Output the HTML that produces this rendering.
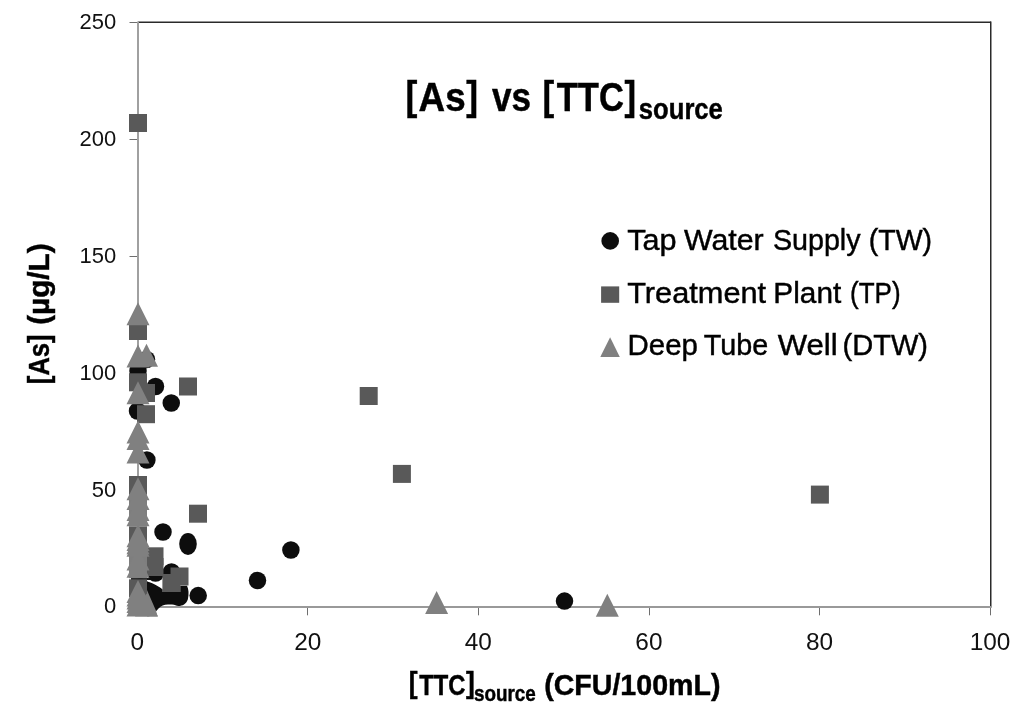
<!DOCTYPE html>
<html><head><meta charset="utf-8"><style>
html,body{margin:0;padding:0;background:#fff;width:1024px;height:720px;overflow:hidden}
svg{display:block;filter:grayscale(1)}
text{font-family:"Liberation Sans",sans-serif;fill:#111}
.yt{font-size:22px;text-anchor:end}
.xt{font-size:24.4px;text-anchor:middle}
.b{font-weight:bold}
.h{fill:#000;stroke:#000;stroke-width:0.45px}
</style></head><body>
<svg width="1024" height="720" viewBox="0 0 1024 720">
<rect width="1024" height="720" fill="#fff"/>
<rect x="138" y="21.5" width="853" height="1.5" fill="#2a2a2a"/>
<rect x="990" y="21.5" width="1.5" height="586" fill="#2a2a2a"/>
<rect x="129.5" y="607" width="8.5" height="1" fill="#6e6e6e"/>
<rect x="129.5" y="490" width="8.5" height="1" fill="#6e6e6e"/>
<rect x="129.5" y="373" width="8.5" height="1" fill="#6e6e6e"/>
<rect x="129.5" y="256" width="8.5" height="1" fill="#6e6e6e"/>
<rect x="129.5" y="139" width="8.5" height="1" fill="#6e6e6e"/>
<rect x="129.5" y="22" width="8.5" height="1" fill="#6e6e6e"/>
<rect x="136" y="607" width="1" height="8.3" fill="#6e6e6e"/>
<rect x="307" y="607" width="1" height="8.3" fill="#6e6e6e"/>
<rect x="478" y="607" width="1" height="8.3" fill="#6e6e6e"/>
<rect x="649" y="607" width="1" height="8.3" fill="#6e6e6e"/>
<rect x="819" y="607" width="1" height="8.3" fill="#6e6e6e"/>
<rect x="990" y="607" width="1" height="8.3" fill="#6e6e6e"/>
<rect x="137" y="21.5" width="2" height="586.5" fill="#a0a0a0"/>
<rect x="137" y="606" width="854.5" height="2" fill="#999"/>
<ellipse cx="188" cy="544" rx="8.8" ry="11" fill="#0d0d0d"/><rect x="131" y="578" width="19" height="2" fill="#1a1a1a"/><path d="M140 581 C147 580 155 584 162.7 589.4 L162.7 592 L180.2 592 L180.2 585.7 L187 585.7 C188.6 589 189.2 594 187.8 599.5 C186.2 604 182.5 606 178.5 606 C176 606 175 604.6 172 604.6 L168 604.6 C164 604.6 161 606 158.5 608.5 L155 612.5 L140 612.5 Z" fill="#0d0d0d"/>
<circle cx="146.5" cy="359.5" r="8.75" fill="#0d0d0d"/>
<circle cx="138" cy="371" r="8.75" fill="#0d0d0d"/>
<circle cx="155.5" cy="386.5" r="8.75" fill="#0d0d0d"/>
<circle cx="137.5" cy="411" r="8.75" fill="#0d0d0d"/>
<circle cx="171.25" cy="403" r="8.75" fill="#0d0d0d"/>
<circle cx="146.9" cy="460" r="8.75" fill="#0d0d0d"/>
<circle cx="163" cy="532" r="8.75" fill="#0d0d0d"/>
<circle cx="155.5" cy="573" r="8.75" fill="#0d0d0d"/>
<circle cx="171.5" cy="572" r="8.75" fill="#0d0d0d"/>
<circle cx="198.2" cy="595.6" r="8.75" fill="#0d0d0d"/>
<circle cx="290.9" cy="550" r="8.75" fill="#0d0d0d"/>
<circle cx="257.5" cy="580.5" r="8.75" fill="#0d0d0d"/>
<circle cx="564.5" cy="601.1" r="8.75" fill="#0d0d0d"/>
<circle cx="140.5" cy="586.9" r="8.75" fill="#0d0d0d"/>
<rect x="129" y="114" width="18" height="18" fill="#595959"/>
<rect x="129" y="322" width="18" height="18" fill="#595959"/>
<rect x="129" y="373.3" width="18" height="18" fill="#595959"/>
<rect x="179" y="377.5" width="18" height="18" fill="#595959"/>
<rect x="137" y="384" width="18" height="18" fill="#595959"/>
<rect x="137" y="405.2" width="18" height="18" fill="#595959"/>
<rect x="359.7" y="387" width="18" height="18" fill="#595959"/>
<rect x="392.9" y="464.9" width="18" height="18" fill="#595959"/>
<rect x="810.9" y="485.6" width="18" height="18" fill="#595959"/>
<rect x="129" y="476" width="18" height="18" fill="#595959"/>
<rect x="189" y="504.7" width="18" height="18" fill="#595959"/>
<rect x="129" y="526.4" width="18" height="18" fill="#595959"/>
<rect x="145.5" y="547.3" width="18" height="18" fill="#595959"/>
<rect x="145.5" y="558" width="18" height="18" fill="#595959"/>
<rect x="170.5" y="567.5" width="18" height="18" fill="#595959"/>
<rect x="162.4" y="574" width="18" height="18" fill="#595959"/>
<rect x="129" y="579.3" width="18" height="18" fill="#595959"/>
<rect x="129" y="494" width="18" height="32.5" fill="#7e7e7e"/><rect x="129" y="544" width="18" height="34.2" fill="#7e7e7e"/>
<path d="M138 302.25L149.5 325.25L126.5 325.25Z" fill="#808080"/>
<path d="M138 344.5L149.5 367.5L126.5 367.5Z" fill="#808080"/>
<path d="M146.5 343.8L158 366.8L135 366.8Z" fill="#808080"/>
<path d="M138 381.25L149.5 404.25L126.5 404.25Z" fill="#808080"/>
<path d="M138 420.5L149.5 443.5L126.5 443.5Z" fill="#808080"/>
<path d="M138 427L149.5 450L126.5 450Z" fill="#808080"/>
<path d="M138 440.5L149.5 463.5L126.5 463.5Z" fill="#808080"/>
<path d="M138 477.2L149.5 500.2L126.5 500.2Z" fill="#808080"/>
<path d="M138 486.9L149.5 509.9L126.5 509.9Z" fill="#808080"/>
<path d="M138 497.9L149.5 520.9L126.5 520.9Z" fill="#808080"/>
<path d="M138 503.2L149.5 526.2L126.5 526.2Z" fill="#808080"/>
<path d="M138 524.2L149.5 547.2L126.5 547.2Z" fill="#808080"/>
<path d="M138 528.1L149.5 551.1L126.5 551.1Z" fill="#808080"/>
<path d="M138 531.2L149.5 554.2L126.5 554.2Z" fill="#808080"/>
<path d="M138 533.8L149.5 556.8L126.5 556.8Z" fill="#808080"/>
<path d="M138 547.4L149.5 570.4L126.5 570.4Z" fill="#808080"/>
<path d="M138 554.7L149.5 577.7L126.5 577.7Z" fill="#808080"/>
<path d="M138 580.1L149.5 603.1L126.5 603.1Z" fill="#808080"/>
<path d="M138 583.4L149.5 606.4L126.5 606.4Z" fill="#808080"/>
<path d="M138 586.5L149.5 609.5L126.5 609.5Z" fill="#808080"/>
<path d="M138 590L149.5 613L126.5 613Z" fill="#808080"/>
<path d="M138 593.6L149.5 616.6L126.5 616.6Z" fill="#808080"/>
<path d="M146.5 593.6L158 616.6L135 616.6Z" fill="#808080"/>
<path d="M436.6 591L448.1 614L425.1 614Z" fill="#808080"/>
<path d="M607.3 593.7L618.8 616.7L595.8 616.7Z" fill="#808080"/>
<path d="M147 590 L151.3 600 L155.7 610 L157.7 616.6 L147 616.6 Z" fill="#808080"/>
<text class="yt" x="116.3" y="613">0</text>
<text class="yt" x="116.3" y="497.2">50</text>
<text class="yt" x="116.3" y="380.2">100</text>
<text class="yt" x="116.3" y="263.2">150</text>
<text class="yt" x="116.3" y="146.2">200</text>
<text class="yt" x="116.3" y="29.2">250</text>
<text class="xt" x="137.3" y="650.3">0</text>
<text class="xt" x="307.84" y="650.3">20</text>
<text class="xt" x="478.38" y="650.3">40</text>
<text class="xt" x="648.92" y="650.3">60</text>
<text class="xt" x="819.46" y="650.3">80</text>
<text class="xt" x="990" y="650.3">100</text>
<text class="h" x="405.41" y="109.6" font-size="41.5" font-weight="bold" textLength="11.83" lengthAdjust="spacingAndGlyphs">[</text>
<text class="h" x="418.58" y="110.9" font-size="40.5" font-weight="bold" textLength="47.02" lengthAdjust="spacingAndGlyphs">As</text>
<text class="h" x="466.37" y="109.6" font-size="41.5" font-weight="bold" textLength="11.83" lengthAdjust="spacingAndGlyphs">]</text>
<text class="h" x="492.06" y="110.9" font-size="40.5" font-weight="bold" textLength="39.08" lengthAdjust="spacingAndGlyphs">vs</text>
<text class="h" x="542.43" y="109.6" font-size="41.5" font-weight="bold" textLength="11.70" lengthAdjust="spacingAndGlyphs">[</text>
<text class="h" x="556.71" y="110.9" font-size="40.5" font-weight="bold" textLength="67.23" lengthAdjust="spacingAndGlyphs">TTC</text>
<text class="h" x="624.58" y="109.6" font-size="41.5" font-weight="bold" textLength="11.58" lengthAdjust="spacingAndGlyphs">]</text>
<text class="h" x="638.80" y="119" font-size="29" font-weight="bold" textLength="84.08" lengthAdjust="spacingAndGlyphs">source</text>
<text class="h" x="408.71" y="692.6" font-size="29.5" font-weight="bold" textLength="8.81" lengthAdjust="spacingAndGlyphs">[</text>
<text class="h" x="419.23" y="694.7" font-size="29.5" font-weight="bold" textLength="46.22" lengthAdjust="spacingAndGlyphs">TTC</text>
<text class="h" x="466.08" y="692.6" font-size="29.5" font-weight="bold" textLength="8.81" lengthAdjust="spacingAndGlyphs">]</text>
<text class="h" x="474.04" y="701.3" font-size="22" font-weight="bold" textLength="61.81" lengthAdjust="spacingAndGlyphs">source</text>
<text class="h" x="544.18" y="694.7" font-size="29.5" font-weight="bold" textLength="176.25" lengthAdjust="spacingAndGlyphs">(CFU/100mL)</text>
<text class="h" transform="translate(48.5 382.7) rotate(-90)" x="-1.44" y="0" font-size="29.5" font-weight="bold" textLength="49.77" lengthAdjust="spacingAndGlyphs">[As]</text>
<text class="h" transform="translate(48.5 382.7) rotate(-90)" x="57.92" y="0" font-size="29.5" font-weight="bold" textLength="81.36" lengthAdjust="spacingAndGlyphs">(µg/L)</text>
<text class="h" x="627.26" y="249.9" font-size="30" textLength="49.35" lengthAdjust="spacingAndGlyphs">Tap</text>
<text class="h" x="683.97" y="249.9" font-size="30" textLength="79.73" lengthAdjust="spacingAndGlyphs">Water</text>
<text class="h" x="772.90" y="249.9" font-size="30" textLength="87.66" lengthAdjust="spacingAndGlyphs">Supply</text>
<text class="h" x="868.73" y="249.9" font-size="30" textLength="63.34" lengthAdjust="spacingAndGlyphs">(TW)</text>
<text class="h" x="627.22" y="302.8" font-size="30" textLength="138.91" lengthAdjust="spacingAndGlyphs">Treatment</text>
<text class="h" x="773.36" y="302.8" font-size="30" textLength="67.86" lengthAdjust="spacingAndGlyphs">Plant</text>
<text class="h" x="850.09" y="302.8" font-size="30" textLength="50.52" lengthAdjust="spacingAndGlyphs">(TP)</text>
<text class="h" x="627.59" y="354.9" font-size="30" textLength="70.24" lengthAdjust="spacingAndGlyphs">Deep</text>
<text class="h" x="703.77" y="354.9" font-size="30" textLength="64.39" lengthAdjust="spacingAndGlyphs">Tube</text>
<text class="h" x="777.66" y="354.9" font-size="30" textLength="60.00" lengthAdjust="spacingAndGlyphs">Well</text>
<text class="h" x="842.60" y="354.9" font-size="30" textLength="85.45" lengthAdjust="spacingAndGlyphs">(DTW)</text>
<circle cx="610.2" cy="240.9" r="8.8" fill="#0d0d0d"/>
<rect x="601.1" y="286.4" width="18.1" height="16.4" fill="#595959"/>
<path d="M610.1 337.2L619.8 357L600.3 357Z" fill="#808080"/>
</svg>
</body></html>
